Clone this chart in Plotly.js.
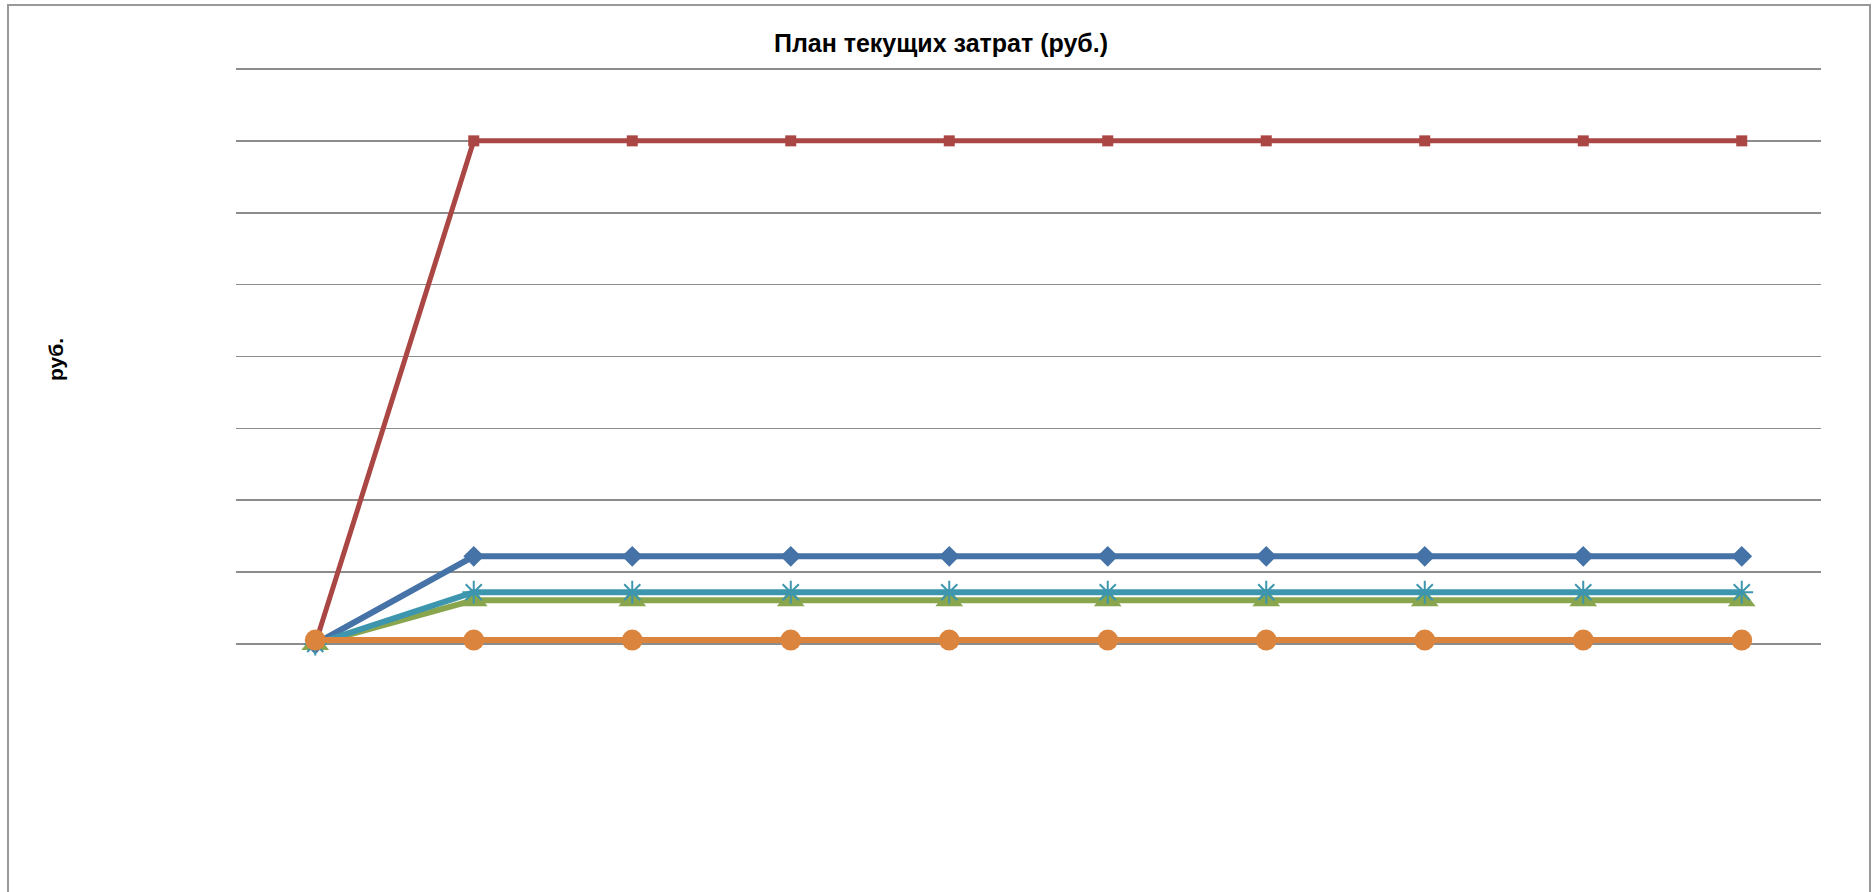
<!DOCTYPE html>
<html>
<head>
<meta charset="utf-8">
<script src="https://cdn.plot.ly/plotly-3.0.1.min.js"></script>
<style>
html, body { margin: 0; padding: 0; background: #fff; }
#chart { width: 1872px; height: 892px; }
</style>
</head>
<body>
<div id="chart"></div>
<script>
// Categories (periods) – labels not shown on the original chart
const periods = ["1", "2", "3", "4", "5", "6", "7", "8", "9", "10"];

// Series values (руб.)
const seriesBlue   = [0, 122000, 122000, 122000, 122000, 122000, 122000, 122000, 122000, 122000];
const seriesRed    = [0, 700000, 700000, 700000, 700000, 700000, 700000, 700000, 700000, 700000];
const seriesGreen  = [0, 61000, 61000, 61000, 61000, 61000, 61000, 61000, 61000, 61000];
const seriesTeal   = [0, 72000, 72000, 72000, 72000, 72000, 72000, 72000, 72000, 72000];
const seriesOrange = [5500, 5500, 5500, 5500, 5500, 5500, 5500, 5500, 5500, 5500];

const titleText = "План текущих затрат (руб.)";
const yTitleText = "руб.";

const W = 1872, H = 892;
const L = 236, R = 1821, T = 60, B = 644;

function tr(y, color, lw, symbol, msize, extra) {
  const m = Object.assign({ symbol: symbol, size: msize, color: color, line: { width: 0 } }, extra || {});
  return {
    type: "scatter", mode: "lines+markers",
    x: periods, y: y,
    line: { color: color, width: lw },
    marker: m,
    cliponaxis: false,
    showlegend: false,
    hoverinfo: "y"
  };
}

const data = [
  tr(seriesBlue, "#4572A7", 6, "diamond", 16),
  tr(seriesRed, "#AA4643", 5, "square", 11),
  tr(seriesGreen, "#89A54E", 6, "triangle-up", 24),
  tr(seriesTeal, "#3D96AE", 6, "asterisk-open", 19, { line: { color: "#3D96AE", width: 2 } }),
  tr(seriesOrange, "#DB843D", 6, "circle", 21)
];

const pw = R - L, ph = B - T;
const layout = {
  width: W, height: H,
  margin: { l: L, r: W - R, t: T, b: H - B, pad: 0 },
  paper_bgcolor: "#fff",
  plot_bgcolor: "#fff",
  font: { family: "Liberation Sans, Arial, sans-serif", color: "#000" },
  title: {
    text: "<b>" + titleText + "</b>",
    font: { family: "Liberation Sans, Arial, sans-serif", size: 25, color: "#000" },
    xref: "container", yref: "container",
    x: 941 / W, y: 1 - 43 / H, xanchor: "center", yanchor: "middle"
  },
  xaxis: {
    type: "category",
    range: [-0.5, 9.5],
    showgrid: false, zeroline: false, showline: false,
    showticklabels: false, ticks: "",
    fixedrange: true
  },
  yaxis: {
    range: [0, 812500],
    dtick: 100000, tick0: 0,
    showgrid: true, gridcolor: "#8c8c8c", gridwidth: 1.6,
    zeroline: true, zerolinecolor: "#8c8c8c", zerolinewidth: 1.6,
    showline: false, showticklabels: false, ticks: "",
    fixedrange: true
  },
  annotations: [{
    text: "<b>" + yTitleText + "</b>",
    xref: "paper", yref: "paper",
    x: (55 - L) / pw, y: (B - 360) / ph,
    xanchor: "center", yanchor: "middle",
    textangle: -90, showarrow: false,
    font: { family: "Liberation Sans, Arial, sans-serif", size: 21, color: "#000" }
  }],
  shapes: [{
    type: "rect", xref: "paper", yref: "paper",
    x0: (8 - L) / pw, x1: (1870 - L) / pw,
    y0: (B - 1000) / ph, y1: (B - 5) / ph,
    line: { color: "#999", width: 2 }, fillcolor: "rgba(0,0,0,0)",
    layer: "below"
  }]
};

Plotly.newPlot("chart", data, layout, { displayModeBar: false, staticPlot: true });
</script>
</body>
</html>
